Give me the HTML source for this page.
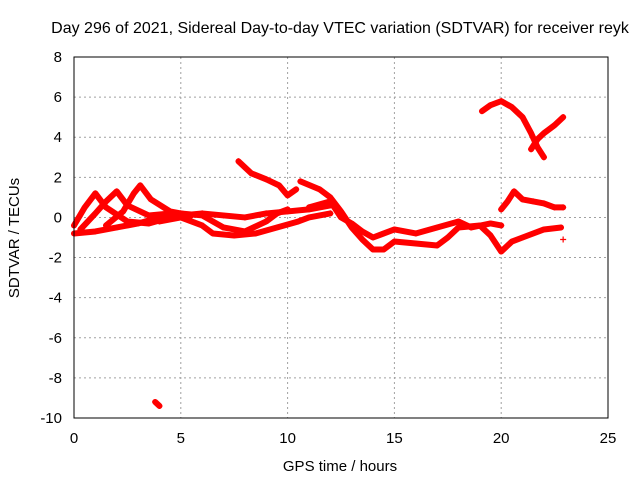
<!DOCTYPE html>
<html><head><meta charset="utf-8"><style>
body{margin:0;background:#fff;}
svg text{font-family:"Liberation Sans",sans-serif;font-size:15px;fill:#000;}
</style></head><body>
<svg id="chart" width="640" height="480" xmlns="http://www.w3.org/2000/svg">
<rect width="640" height="480" fill="#fff"/>
<text x="340" y="33" text-anchor="middle" style="font-size:16px">Day 296 of 2021, Sidereal Day-to-day VTEC variation (SDTVAR) for receiver reyk</text>
<text x="340" y="471" text-anchor="middle">GPS time / hours</text>
<text transform="translate(19,238) rotate(-90)" text-anchor="middle">SDTVAR / TECUs</text>
<g id="grid"></g><g id="ticks"></g><g id="series"></g>
<rect x="74" y="57" width="534" height="361" fill="none" stroke="#000" stroke-width="1"/>
</svg>
<script>
const xTicks=[0,5,10,15,20,25];
const yTicks=[8,6,4,2,0,-2,-4,-6,-8,-10];
const traceLowEarly=[[0,-0.8],[1,-0.7],[2,-0.5],[3,-0.3],[4,0],[5,0.1],[6,0.2],[7,0.1],[8,0],[9,0.2],[10,0.3],[11,0.4],[12,0.6]];
const traceArc1=[[0,-0.4],[0.5,0.5],[1,1.2],[1.5,0.5],[2.5,-0.2],[3.5,-0.3],[4.5,0]];
const traceArc2=[[0.3,-0.6],[1,0.2],[1.5,0.8],[2,1.3],[2.5,0.6],[3.5,0.1],[4.5,0.2]];
const traceArc3=[[1.5,-0.4],[2.3,0.3],[2.8,1.2],[3.1,1.6],[3.6,0.9],[4.5,0.3],[5.5,0.1]];
const traceMid=[[4,-0.2],[5,0],[6,-0.4],[6.5,-0.8],[7.5,-0.9],[8.5,-0.8],[9.5,-0.5],[10.5,-0.2],[11,0],[12,0.2]];
const traceMid2=[[5,0.2],[6,0.1],[7,-0.5],[8,-0.7],[9,-0.2],[9.5,0.2],[10,0.4]];
const traceHigh=[[7.7,2.8],[8.3,2.2],[9,1.9],[9.6,1.6],[10,1.1],[10.4,1.4]];
const traceLong=[[10.6,1.8],[11.5,1.4],[12,1.0],[12.5,0.3],[13,-0.5],[13.5,-1.1],[14,-1.6],[14.5,-1.6],[15,-1.2],[16,-1.3],[17,-1.4],[17.5,-1],[18,-0.5],[19,-0.4],[19.5,-0.9],[20,-1.7],[20.5,-1.2],[21,-1.0],[22,-0.6],[22.8,-0.5]];
const traceLong2=[[11,0.5],[12,0.8],[12.5,0],[13,-0.3],[13.5,-0.7],[14,-1.0],[15,-0.6],[16,-0.8],[17,-0.5],[18,-0.2],[18.6,-0.5],[19.5,-0.3],[20,-0.4]];
const traceTopA=[[19.1,5.3],[19.5,5.6],[20,5.8],[20.5,5.5],[21,5.0],[21.4,4.2],[21.7,3.5],[22,3.0]];
const traceTopB=[[21.4,3.4],[21.7,3.9],[22,4.2],[22.5,4.6],[22.9,5.0]];
const traceRight=[[20,0.4],[20.3,0.8],[20.6,1.3],[21,0.9],[21.5,0.8],[22,0.7],[22.5,0.5],[22.9,0.5]];
const traceOutlier=[[3.8,-9.2],[3.9,-9.3],[4.0,-9.4]];
const traceSingle=[[22.9,-1.1]];
const allTraces=[traceLowEarly,traceArc1,traceArc2,traceArc3,traceMid,traceMid2,traceHigh,traceLong,traceLong2,traceTopA,traceTopB,traceRight,traceOutlier,traceSingle];
const NS='http://www.w3.org/2000/svg';
const X=v=>74+(v-0)*(534/25);
const Y=v=>418-(v+10)*(361/18);
function mk(t,a){const e=document.createElementNS(NS,t);for(const k in a)e.setAttribute(k,a[k]);return e;}
const grid=document.getElementById('grid'),ticks=document.getElementById('ticks'),ser=document.getElementById('series');
xTicks.forEach(t=>{const x=X(t);
 if(t>0&&t<25){const g=mk('line',{x1:x,x2:x,y1:57,y2:418,stroke:'#a0a0a0','stroke-dasharray':'2,3'});grid.appendChild(g);}
 const l=mk('text',{x:x,y:443,'text-anchor':'middle'});l.textContent=t;
 
 
 ticks.appendChild(l);});
yTicks.forEach(t=>{const y=Y(t);
 if(t>-10&&t<8){const g=mk('line',{x1:74,x2:608,y1:y,y2:y,stroke:'#a0a0a0','stroke-dasharray':'2,3'});grid.appendChild(g);}
 const l=mk('text',{x:62,y:y+5,'text-anchor':'end'});l.textContent=t;
 
 
 ticks.appendChild(l);});
allTraces.forEach(tr=>{
 if(tr.length>1){const p=mk('polyline',{points:tr.map(d=>X(d[0])+','+Y(d[1])).join(' '),fill:'none',stroke:'#ff0000','stroke-width':6,'stroke-linejoin':'round','stroke-linecap':'round'});
 
 
 ser.appendChild(p);}
 tr.forEach(d=>{const x=X(d[0]),y=Y(d[1]);
  const m=mk('path',{d:`M${x-3},${y}H${x+3}M${x},${y-3}V${y+3}`,stroke:'#ff0000','stroke-width':1.2});
  
  
  ser.appendChild(m);});
});
</script>
</body></html>
